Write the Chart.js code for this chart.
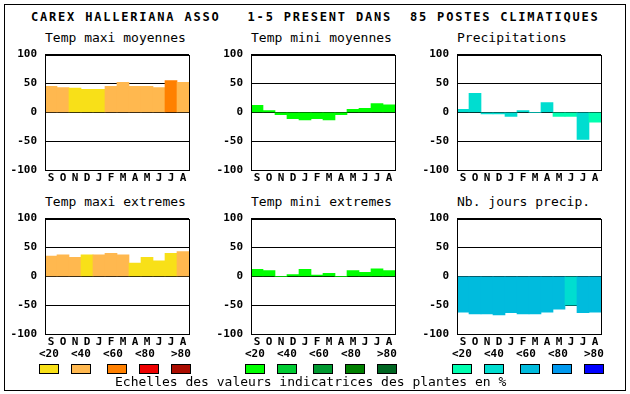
<!DOCTYPE html>
<html>
<head>
<meta charset="utf-8">
<script src="https://cdn.jsdelivr.net/npm/chart.js@4.4.1/dist/chart.umd.min.js"></script>
<style>
  body { margin: 0; background: #fff; }
  #page { position: relative; width: 630px; height: 394px; overflow: hidden; font-family: "DejaVu Sans Mono", monospace; color: #000; }
  #frame { position: absolute; left: 4px; top: 4px; width: 620px; height: 385px; border: 1px solid #000; }
  .t { position: absolute; white-space: pre; line-height: 14px; }
  .title { font-size: 12px; font-weight: bold; letter-spacing: 1.8px; }
  .sub { font-size: 13px; }
  .lbl { font-size: 11px; font-weight: bold; }
  .sw { position: absolute; width: 20px; height: 10px; box-sizing: border-box; border: 1px solid #000; }
  .panel { position: absolute; width: 206px; height: 150px; }
</style>
</head>
<body>
<div id="page">
  <div id="frame"></div>
  <div class="t title" style="left:31px;top:10px">CAREX HALLERIANA ASSO   1-5 PRESENT DANS  85 POSTES CLIMATIQUES</div>
</div>
<script>
const months = ['S', 'O', 'N', 'D', 'J', 'F', 'M', 'A', 'M', 'J', 'J', 'A']
const scaleLabels = ['<20', '<40', '<60', '<80', '>80']

// values, classes index into each palette
const maxiMoy = [45, 43, 42, 40, 40, 45, 52, 45, 45, 43, 55, 52]
const maxiMoyClass = [1, 1, 0, 0, 0, 1, 1, 1, 1, 1, 2, 1]
const miniMoy = [12, 3, -4, -11, -13, -11, -13, -4, 5, 7, 15, 13]
const miniMoyClass = [0, 0, 0, 0, 0, 0, 0, 0, 0, 0, 0, 0]
const precip = [5, 33, -3, -3, -7, 3, 0, 17, -7, -7, -47, -17]
const precipClass = [1, 1, 1, 1, 1, 1, 1, 1, 0, 0, 1, 0]
const maxiExt = [35, 37, 33, 37, 37, 40, 37, 23, 33, 27, 40, 43]
const maxiExtClass = [1, 1, 1, 0, 1, 1, 1, 0, 0, 0, 0, 1]
const miniExt = [12, 10, 0, 3, 12, 2, 5, 0, 10, 7, 13, 10]
const miniExtClass = [0, 0, 0, 0, 0, 0, 0, 0, 0, 0, 0, 0]
const nbJours = [-62, -65, -65, -67, -63, -65, -65, -62, -57, -50, -63, -62]
const nbJoursClass = [2, 2, 2, 2, 2, 2, 2, 2, 2, 1, 2, 2]

const warm = ['#f8e018', '#ffb84f', '#ff8000', '#ee0000', '#aa0c00']
const green = ['#00ff00', '#00cc33', '#009930', '#008000', '#006622']
const water = ['#00ffb0', '#00ddd0', '#00bbdd', '#0099ee', '#0000ff']

const font = { family: 'DejaVu Sans Mono', weight: 'bold', size: 11 }

const frameBox = {
    id: 'frameBox',
    afterDraw(chart) {
        const { ctx, chartArea: a } = chart
        ctx.save()
        ctx.strokeStyle = '#000'
        ctx.lineWidth = 1
        ctx.strokeRect(Math.round(a.left) + 0.5, Math.round(a.top) + 0.5, Math.round(a.width), Math.round(a.height))
        ctx.restore()
    }
}

const page = document.getElementById('page')

function addText(cls, text, x, y) {
    const d = document.createElement('div')
    d.className = 't ' + cls
    d.style.left = x + 'px'
    d.style.top = y + 'px'
    d.textContent = text
    page.appendChild(d)
}

function makePanel(col, row, title, values, classes, palette) {
    const left = col * 206
    const top = row === 0 ? 40 : 204
    addText('sub', title, left + 45, top - 9)

    const box = document.createElement('div')
    box.className = 'panel'
    box.style.left = left + 'px'
    box.style.top = top + 'px'
    const canvas = document.createElement('canvas')
    canvas.width = 206
    canvas.height = 150
    box.appendChild(canvas)
    page.appendChild(box)

    new Chart(canvas, {
        type: 'bar',
        data: {
            labels: months,
            datasets: [{
                data: values,
                backgroundColor: classes.map(c => palette[c]),
                borderWidth: 0,
                barPercentage: 1,
                categoryPercentage: 1
            }]
        },
        options: {
            responsive: false,
            animation: false,
            devicePixelRatio: 1,
            layout: { padding: { left: 0, top: 10, right: 17, bottom: 0 } },
            plugins: { legend: { display: false }, tooltip: { enabled: false } },
            scales: {
                x: {
                    grid: { display: false, drawTicks: false },
                    border: { display: false },
                    ticks: { color: '#000', font: font, padding: 2, maxRotation: 0, autoSkip: false },
                    afterFit(s) { s.height = 20 }
                },
                y: {
                    min: -100,
                    max: 100,
                    z: 1,
                    grid: { color: '#000', lineWidth: 1, drawTicks: false },
                    border: { display: false },
                    ticks: { stepSize: 50, color: '#000', font: font, padding: 8 },
                    afterFit(s) { s.width = 45 }
                }
            }
        },
        plugins: [frameBox]
    })
}

makePanel(0, 0, 'Temp maxi moyennes', maxiMoy, maxiMoyClass, warm)
makePanel(1, 0, 'Temp mini moyennes', miniMoy, miniMoyClass, green)
makePanel(2, 0, 'Precipitations', precip, precipClass, water)
makePanel(0, 1, 'Temp maxi extremes', maxiExt, maxiExtClass, warm)
makePanel(1, 1, 'Temp mini extremes', miniExt, miniExtClass, green)
makePanel(2, 1, 'Nb. jours precip.', nbJours, nbJoursClass, water)

// colour scales under the bottom row
const groupX = [39, 245, 452]
const labelOff = [0, 32, 64, 96, 132]
const swatchOff = [0, 32, 68, 100, 132]
;[warm, green, water].forEach((palette, g) => {
    scaleLabels.forEach((s, i) => {
        addText('lbl', s, groupX[g] + labelOff[i], 347)
        const sw = document.createElement('div')
        sw.className = 'sw'
        sw.style.left = (groupX[g] + swatchOff[i]) + 'px'
        sw.style.top = '364px'
        sw.style.background = palette[i]
        page.appendChild(sw)
    })
})
addText('sub', 'Echelles des valeurs indicatrices des plantes en %', 115, 375)
</script>
</body>
</html>
